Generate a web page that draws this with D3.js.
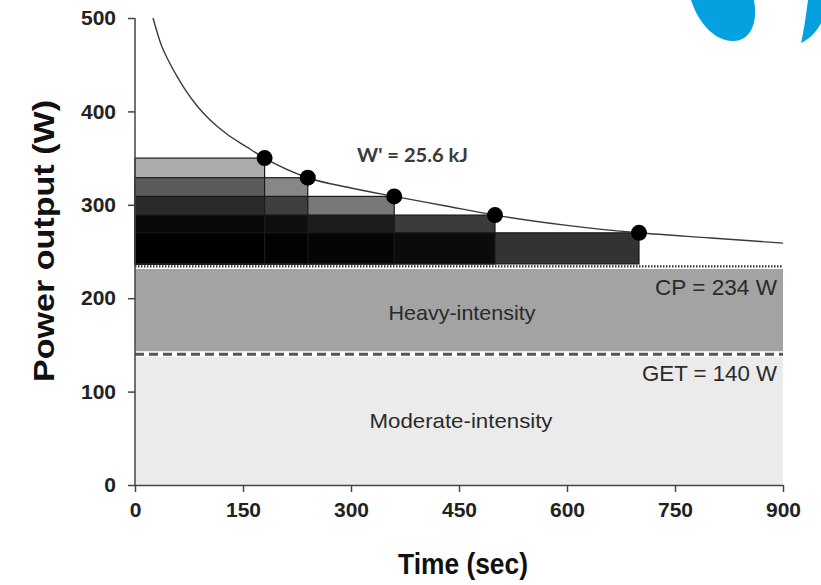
<!DOCTYPE html>
<html>
<head>
<meta charset="utf-8">
<script src="https://cdn.jsdelivr.net/npm/d3@7"></script>
<style>
  html, body { margin: 0; padding: 0; background: #ffffff; }
  svg { display: block; }
</style>
</head>
<body>
<svg id="chart" width="821" height="585"></svg>
<script>
// ---------------- data ----------------
const timeTicks = [0, 150, 300, 450, 600, 750, 900];
const powerTicks = [0, 100, 200, 300, 400, 500];

// constant-power trials (time to exhaustion, power)
const trialTime = [180, 240, 360, 500, 700];
const trialPower = [350, 329, 309, 289, 270];

// power-duration curve
const curveTime = [25, 37, 46, 58, 69, 86, 104, 127, 155, 180, 240, 300, 360, 430, 500, 600, 700, 800, 900];
const curvePower = [500, 470, 455, 438, 424, 406, 391, 376, 362, 350, 329, 318, 309, 299, 289, 278, 270, 264.5, 259];

const CP = 234;
const GET = 140;
const Wprime = 25.6;
const domainLabels = ["Heavy-intensity", "Moderate-intensity"];

// ---------------- styles ----------------
const shadeOpacity = [0.33, 0.47, 0.53, 0.77, 0.80];

// ---------------- layout ----------------
const svg = d3.select("#chart");
const margin = { left: 135, right: 38, top: 18, bottom: 100 };
const W = 821, H = 585;
const x = d3.scaleLinear().domain([0, 900]).range([margin.left, W - margin.right]);
const y = d3.scaleLinear().domain([0, 500]).range([H - margin.bottom, margin.top]);

// decorative blue shapes (top-right corner of the source image)
svg.append("path")
  .attr("d", "M691,0 C698,22 714,41 733,41 C751,41 758,22 754,0 Z")
  .attr("fill", "#05a0e0");
svg.append("path")
  .attr("d", "M808,0 C806,15 804,30 801,43 C810,39 817,31 821,23 L821,0 Z")
  .attr("fill", "#05a0e0");

// intensity domains
svg.append("rect")
  .attr("x", x(0)).attr("width", x(900) - x(0))
  .attr("y", y(GET) + 2.5).attr("height", y(0) - y(GET) - 2.5)
  .attr("fill", "#ebebeb");
svg.append("rect")
  .attr("x", x(0)).attr("width", x(900) - x(0))
  .attr("y", y(CP) + 2.5).attr("height", y(GET) - y(CP) - 5.5)
  .attr("fill", "#a3a3a3");

// trial rectangles (W' areas above CP)
const trials = trialTime.map((t, i) => ({ t, p: trialPower[i], o: shadeOpacity[i] }));
svg.append("g").selectAll("rect").data(trials).join("rect")
  .attr("x", x(0))
  .attr("width", d => x(d.t) - x(0))
  .attr("y", d => y(d.p))
  .attr("height", d => y(CP) - 2.5 - y(d.p))
  .attr("fill", "#000")
  .attr("fill-opacity", d => d.o);
svg.append("g").selectAll("rect").data(trials).join("rect")
  .attr("x", x(0))
  .attr("width", d => x(d.t) - x(0))
  .attr("y", d => y(d.p))
  .attr("height", d => y(CP) - 2.5 - y(d.p))
  .attr("fill", "none")
  .attr("stroke", "#1a1a1a")
  .attr("stroke-width", 1.2);

// CP dotted line
svg.append("line")
  .attr("x1", x(0)).attr("x2", x(900))
  .attr("y1", y(CP)).attr("y2", y(CP))
  .attr("stroke", "#333").attr("stroke-width", 2.2)
  .attr("stroke-dasharray", "1.5,1.5");

// GET dashed line
svg.append("line")
  .attr("x1", x(0)).attr("x2", x(900))
  .attr("y1", y(GET)).attr("y2", y(GET))
  .attr("stroke", "#555").attr("stroke-width", 3)
  .attr("stroke-dasharray", "9,5");

// power-duration curve
const curvePts = curveTime.map((t, i) => [t, curvePower[i]]);
svg.append("path")
  .datum(curvePts)
  .attr("d", d3.line().x(d => x(d[0])).y(d => y(d[1])).curve(d3.curveMonotoneX))
  .attr("fill", "none")
  .attr("stroke", "#3a3a3a")
  .attr("stroke-width", 1.4);

// trial points
svg.append("g").selectAll("circle").data(trials).join("circle")
  .attr("cx", d => x(d.t)).attr("cy", d => y(d.p)).attr("r", 8)
  .attr("fill", "#000");

// axes
const yAxis = svg.append("g")
  .attr("transform", `translate(${x(0)},0)`)
  .call(d3.axisLeft(y).tickValues(powerTicks).tickSize(7).tickSizeOuter(0).tickPadding(12));
const xAxis = svg.append("g")
  .attr("transform", `translate(0,${y(0)})`)
  .call(d3.axisBottom(x).tickValues(timeTicks).tickSize(7).tickSizeOuter(0).tickPadding(10));
[yAxis, xAxis].forEach(g => {
  g.select(".domain").attr("stroke", "#444").attr("stroke-width", 1.5);
  g.selectAll(".tick line").attr("stroke", "#444").attr("stroke-width", 1.5);
  g.selectAll(".tick text")
    .attr("fill", "#222")
    .style("font-family", "'Liberation Sans', Arial, sans-serif")
    .style("font-weight", "bold")
    .style("font-size", "21px");
});
yAxis.select(".domain").attr("d", `M0,${y(500)}V${y(0)}`);

// axis titles
svg.append("text")
  .attr("x", 463).attr("y", 574)
  .attr("text-anchor", "middle")
  .attr("textLength", 130).attr("lengthAdjust", "spacingAndGlyphs")
  .style("font-family", "'Liberation Sans', Arial, sans-serif")
  .style("font-weight", "bold").style("font-size", "29px")
  .attr("fill", "#111")
  .text("Time (sec)");
svg.append("text")
  .attr("transform", `translate(54,${(100 + 382) / 2}) rotate(-90)`)
  .attr("text-anchor", "middle")
  .attr("textLength", 282).attr("lengthAdjust", "spacingAndGlyphs")
  .style("font-family", "'Liberation Sans', Arial, sans-serif")
  .style("font-weight", "bold").style("font-size", "30px")
  .attr("fill", "#111")
  .text("Power output (W)");

// annotations
const ann = (txt, xp, yp, anchor, len, size, fam, weight, col) =>
  svg.append("text")
    .attr("x", xp).attr("y", yp)
    .attr("text-anchor", anchor)
    .attr("textLength", len).attr("lengthAdjust", "spacingAndGlyphs")
    .style("font-family", fam).style("font-size", size + "px")
    .style("font-weight", weight)
    .attr("fill", col)
    .text(txt);

const arial = "'Liberation Sans', Arial, sans-serif";
ann(`W' = ${Wprime} kJ`, 357, 162, "start", 111, 18, "Lato, 'Open Sans', sans-serif", "bold", "#3a3a3a");
ann(`CP = ${CP} W`, 777, 295, "end", 122, 22, arial, "normal", "#2a2a2a");
ann(`GET = ${GET} W`, 777, 381, "end", 135, 22, arial, "normal", "#2a2a2a");
ann(domainLabels[0], 462, 320, "middle", 147, 21, arial, "normal", "#2a2a2a");
ann(domainLabels[1], 461, 428, "middle", 183, 21, arial, "normal", "#2a2a2a");
</script>
</body>
</html>
